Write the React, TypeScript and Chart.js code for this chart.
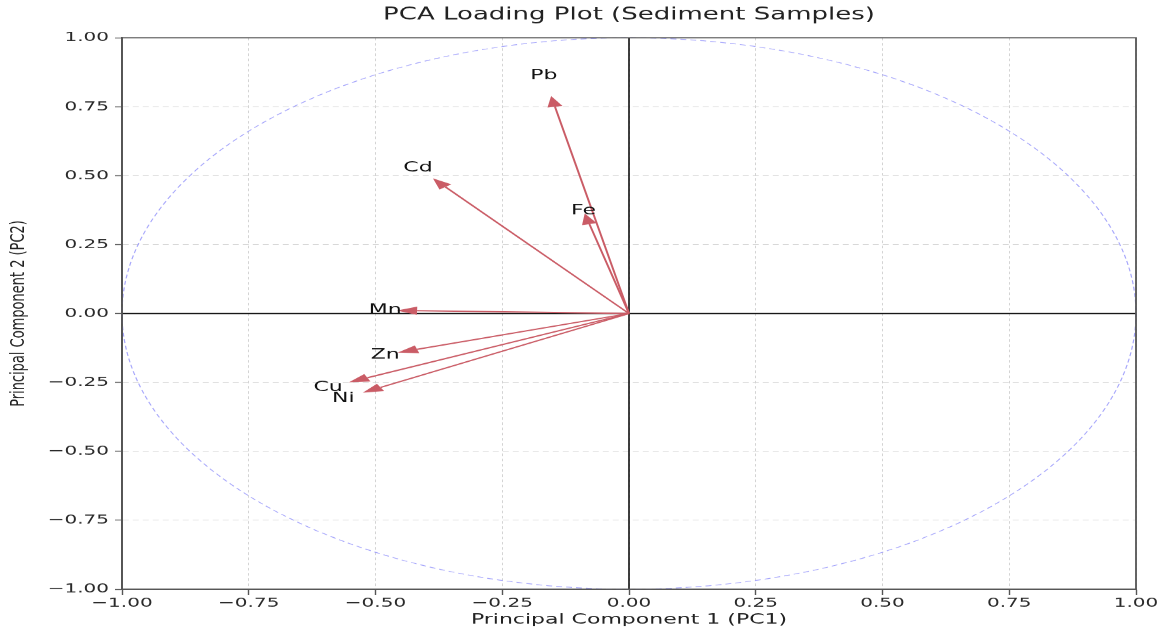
import React, { useEffect, useRef } from 'react';
import { Chart, registerables } from 'chart.js';

Chart.register(...registerables);

// ---- data ----
const variables = ['Pb', 'Cd', 'Fe', 'Mn', 'Zn', 'Cu', 'Ni'];
const pc1Loadings = [-0.146, -0.362, -0.078, -0.418, -0.418, -0.516, -0.49];
const pc2Loadings = [0.75, 0.459, 0.324, 0.01, -0.13, -0.233, -0.268];
const axisTicks = [-1, -0.75, -0.5, -0.25, 0, 0.25, 0.5, 0.75, 1];

const titleText = 'PCA Loading Plot (Sediment Samples)';
const xTitle = 'Principal Component 1 (PC1)';
const yTitle = 'Principal Component 2 (PC2)';

// ---- style ----
const FONT = "'DejaVu Sans', sans-serif";
const ARROW = 'rgb(202, 92, 102)';
const LABEL_SCALE = 1.15;
const HEAD_LEN = 0.04;
const HEAD_HALF = 0.015;
const CANVAS_W = 1165;
const CANVAS_H = 976;
const SQUASH = 634 / CANVAS_H;

const fmt = (v: number) => {
  const r = Math.round(v * 100) / 100;
  if (Math.abs(r) < 1e-9) return '0.00';
  return (r < 0 ? '\u2212' : '') + Math.abs(r).toFixed(2);
};

const overlayPlugin = {
  id: 'pcaOverlay',
  beforeDatasetsDraw(chart: any) {
    const { ctx, chartArea, scales } = chart;
    const x = scales.x;
    const y = scales.y;
    ctx.save();
    // unit circle
    const cx = x.getPixelForValue(0);
    const cy = y.getPixelForValue(0);
    const rx = x.getPixelForValue(1) - cx;
    const ry = cy - y.getPixelForValue(1);
    ctx.strokeStyle = 'rgba(150, 150, 250, 0.85)';
    ctx.lineWidth = 1.2;
    ctx.setLineDash([6, 4]);
    ctx.beginPath();
    ctx.ellipse(cx, cy, rx, ry, 0, 0, Math.PI * 2);
    ctx.stroke();
    // zero lines
    ctx.setLineDash([]);
    ctx.strokeStyle = '#111';
    ctx.lineWidth = 1.6;
    ctx.beginPath();
    ctx.moveTo(cx, chartArea.top);
    ctx.lineTo(cx, chartArea.bottom);
    ctx.moveTo(chartArea.left, cy);
    ctx.lineTo(chartArea.right, cy);
    ctx.stroke();
    ctx.restore();
  },
  afterDatasetsDraw(chart: any) {
    const { ctx, scales } = chart;
    const x = scales.x;
    const y = scales.y;
    ctx.save();
    // arrow heads
    ctx.fillStyle = ARROW;
    for (let i = 0; i < variables.length; i++) {
      const lx = pc1Loadings[i];
      const ly = pc2Loadings[i];
      const len = Math.hypot(lx, ly);
      const ux = lx / len;
      const uy = ly / len;
      const tipX = lx + ux * HEAD_LEN;
      const tipY = ly + uy * HEAD_LEN;
      const px = -uy;
      const py = ux;
      ctx.beginPath();
      ctx.moveTo(x.getPixelForValue(tipX), y.getPixelForValue(tipY));
      ctx.lineTo(x.getPixelForValue(lx + px * HEAD_HALF), y.getPixelForValue(ly + py * HEAD_HALF));
      ctx.lineTo(x.getPixelForValue(lx - px * HEAD_HALF), y.getPixelForValue(ly - py * HEAD_HALF));
      ctx.closePath();
      ctx.fill();
    }
    // labels
    ctx.fillStyle = '#111';
    ctx.font = `22px ${FONT}`;
    ctx.textAlign = 'center';
    ctx.textBaseline = 'middle';
    for (let i = 0; i < variables.length; i++) {
      ctx.fillText(
        variables[i],
        x.getPixelForValue(pc1Loadings[i] * LABEL_SCALE),
        y.getPixelForValue(pc2Loadings[i] * LABEL_SCALE)
      );
    }
    ctx.restore();
  },
  afterDraw(chart: any) {
    const { ctx, chartArea } = chart;
    ctx.save();
    ctx.strokeStyle = '#555';
    ctx.lineWidth = 1.8;
    ctx.strokeRect(chartArea.left, chartArea.top, chartArea.right - chartArea.left, chartArea.bottom - chartArea.top);
    ctx.restore();
  },
};

export default function App() {
  const ref = useRef<HTMLCanvasElement>(null);
  useEffect(() => {
    const datasets = variables.map((name, i) => ({
      label: name,
      data: [
        { x: 0, y: 0 },
        { x: pc1Loadings[i], y: pc2Loadings[i] },
      ],
      showLine: true,
      borderColor: ARROW,
      backgroundColor: ARROW,
      borderWidth: 2,
      pointRadius: 0,
      pointHoverRadius: 0,
    }));
    const gridCommon = {
      color: '#d3d3d3',
      lineWidth: 1,
      drawTicks: true,
      tickColor: '#555',
      tickWidth: 1.4,
      tickBorderDash: [],
    };
    const chart = new Chart(ref.current as HTMLCanvasElement, {
      type: 'scatter',
      data: { datasets },
      options: {
        responsive: false,
        animation: false,
        layout: { padding: { top: 0, left: 0, right: 29, bottom: 0 } },
        plugins: {
          legend: { display: false },
          tooltip: { enabled: false },
          title: {
            display: true,
            fullSize: false,
            text: titleText,
            color: '#222',
            font: { family: FONT, size: 26, weight: 'normal' },
            padding: { top: 8, bottom: 19 },
          },
        },
        scales: {
          x: {
            type: 'linear',
            min: -1,
            max: 1,
            afterBuildTicks: (s: any) => {
              s.ticks = axisTicks.map((v) => ({ value: v }));
            },
            afterFit: (s: any) => {
              s.height = 69;
            },
            ticks: {
              color: '#2a2a2a',
              padding: 1,
              maxRotation: 0,
              font: { family: FONT, size: 20 },
              callback: (v: any) => fmt(Number(v)),
            },
            grid: { ...gridCommon, tickLength: 9 },
            border: { display: true, color: '#555', width: 1.8, dash: [4, 4] },
            title: {
              display: true,
              text: xTitle,
              color: '#222',
              font: { family: FONT, size: 22 },
              padding: { top: 4, bottom: 9 },
            },
          },
          y: {
            type: 'linear',
            min: -1,
            max: 1,
            afterBuildTicks: (s: any) => {
              s.ticks = axisTicks.map((v) => ({ value: v }));
            },
            afterFit: (s: any) => {
              s.width = 122;
            },
            ticks: {
              color: '#2a2a2a',
              padding: 6,
              font: { family: FONT, size: 20 },
              callback: (v: any) => fmt(Number(v)),
            },
            grid: { ...gridCommon, tickLength: 7 },
            border: { display: true, color: '#555', width: 1.8, dash: [6, 4] },
            title: {
              display: true,
              text: yTitle,
              color: '#222',
              font: { family: FONT, size: 20 },
              padding: { top: 7, bottom: 7 },
            },
          },
        },
      },
      plugins: [overlayPlugin],
    } as any);
    return () => chart.destroy();
  }, []);

  return (
    <div
      style={{
        position: 'fixed',
        left: 0,
        top: 0,
        width: CANVAS_W,
        height: 634,
        overflow: 'hidden',
        background: '#fff',
      }}
    >
      <div
        style={{
          width: CANVAS_W,
          height: CANVAS_H,
          transform: `scaleY(${SQUASH})`,
          transformOrigin: '0 0',
        }}
      >
        <canvas ref={ref} width={CANVAS_W} height={CANVAS_H} style={{ display: 'block' }} />
      </div>
    </div>
  );
}
